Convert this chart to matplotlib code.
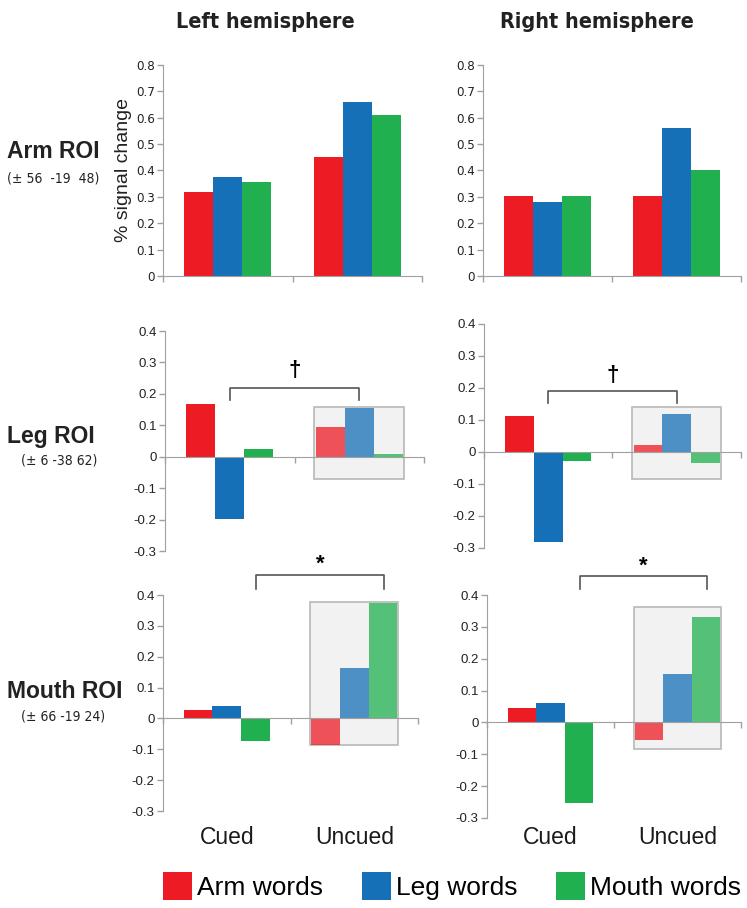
import numpy as np
import matplotlib.pyplot as plt
from matplotlib.patches import Patch, Rectangle
from matplotlib import transforms

plt.rcParams['font.family'] = ['Liberation Sans', 'DejaVu Sans']

# Data (% signal change), order: Arm words, Leg words, Mouth words
conditions = ['Cued', 'Uncued']
word_types = ['Arm words', 'Leg words', 'Mouth words']
colors = ['#ED1C24', '#1570B8', '#21B04F']

arm_left_cued = [0.32, 0.375, 0.355]
arm_left_uncued = [0.45, 0.66, 0.61]
arm_right_cued = [0.305, 0.28, 0.305]
arm_right_uncued = [0.305, 0.56, 0.40]

leg_left_cued = [0.167, -0.198, 0.024]
leg_left_uncued = [0.094, 0.154, 0.01]
leg_right_cued = [0.113, -0.28, -0.027]
leg_right_uncued = [0.022, 0.118, -0.034]

mouth_left_cued = [0.026, 0.041, -0.074]
mouth_left_uncued = [-0.085, 0.165, 0.375]
mouth_right_cued = [0.046, 0.061, -0.254]
mouth_right_uncued = [-0.054, 0.152, 0.332]

# highlight boxes around uncued bars (y range)
leg_left_box = [-0.072, 0.157]
leg_right_box = [-0.084, 0.14]
mouth_left_box = [-0.085, 0.376]
mouth_right_box = [-0.082, 0.363]

# significance brackets: (x start, x end, y top, y end, symbol, symbol x, symbol y)
leg_left_sig = (0.5, 1.5, 0.22, 0.18, '†', 1.0, 0.275)
leg_right_sig = (0.5, 1.5, 0.19, 0.152, '†', 1.0, 0.24)
mouth_left_sig = (0.73, 1.73, 0.465, 0.42, '*', 1.23, 0.50)
mouth_right_sig = (0.73, 1.73, 0.46, 0.42, '*', 1.23, 0.49)

NARROW = dict(family=['DejaVu Sans', 'Liberation Sans'], stretch='condensed')

W, H = 747, 908
fig = plt.figure(figsize=(W / 100, H / 100), dpi=100)


def px_axes(x0, x1, y_top, y_bot):
    return fig.add_axes([x0 / W, 1 - y_bot / H, (x1 - x0) / W, (y_bot - y_top) / H])


bw = 0.224


def draw_panel(ax, cued, uncued, ylim, ticks, box=None, sig=None, narrow=False):
    centers = [0.5, 1.5]
    fade = 0.75 if box is not None else 1.0
    if box is not None:
        ax.add_patch(Rectangle((1.5 - 1.5 * bw - 0.01, box[0]), 3 * bw + 0.02, box[1] - box[0],
                               facecolor='#F2F2F2', edgecolor='#B8B8B8', lw=1.2, zorder=1))
    for i in range(3):
        off = (i - 1) * bw
        ax.bar(centers[0] + off, cued[i], bw, color=colors[i], edgecolor='none', zorder=2)
        ax.bar(centers[1] + off, uncued[i], bw, color=colors[i], alpha=fade,
               edgecolor='none', zorder=2)
    ax.set_xlim(0, 2)
    ax.set_ylim(*ylim)
    ax.set_yticks(ticks)
    ax.set_yticklabels(['0' if abs(t) < 1e-9 else f'{t:.1f}' for t in ticks])
    ax.set_xticks([0, 1, 2])
    ax.set_xticklabels([])
    for s in ['top', 'right']:
        ax.spines[s].set_visible(False)
    ax.spines['left'].set_color('#A0A0A0')
    ax.spines['bottom'].set_color('#A0A0A0')
    ax.spines['bottom'].set_position(('data', 0))
    ax.spines['bottom'].set_zorder(3)
    ax.tick_params(axis='both', colors='#A0A0A0', length=4, width=1)
    if narrow:
        ax.tick_params(axis='y', labelcolor='#222222', labelsize=9.5, pad=2)
        for lab in ax.get_yticklabels():
            lab.set_family(NARROW['family'])
            lab.set_stretch('condensed')
    else:
        ax.tick_params(axis='y', labelcolor='#222222', labelsize=9.5, pad=2)
    ax.patch.set_alpha(0)
    if sig is not None:
        x0, x1, yt, ye, sym, sx, sy = sig
        ax.plot([x0, x0, x1, x1], [ye, yt, yt, ye], color='#555555', lw=1.2, clip_on=False)
        ax.text(sx, sy, sym, ha='center', va='center', fontsize=16, fontweight='bold',
                clip_on=False)


top_ticks = np.arange(0, 0.81, 0.1)
low_ticks = np.arange(-0.3, 0.41, 0.1)

ax1 = px_axes(163, 422, 65, 276)
draw_panel(ax1, arm_left_cued, arm_left_uncued, (0, 0.8), top_ticks, narrow=True)
ax2 = px_axes(483, 741, 65, 276)
draw_panel(ax2, arm_right_cued, arm_right_uncued, (0, 0.8), top_ticks, narrow=True)

ax3 = px_axes(165, 424, 331, 551)
draw_panel(ax3, leg_left_cued, leg_left_uncued, (-0.3, 0.4), low_ticks, leg_left_box, leg_left_sig)
ax4 = px_axes(484, 741, 324, 548)
draw_panel(ax4, leg_right_cued, leg_right_uncued, (-0.3, 0.4), low_ticks, leg_right_box, leg_right_sig)

ax5 = px_axes(163, 418, 595, 811)
draw_panel(ax5, mouth_left_cued, mouth_left_uncued, (-0.3, 0.4), low_ticks, mouth_left_box, mouth_left_sig)
ax6 = px_axes(487, 741, 595, 818)
draw_panel(ax6, mouth_right_cued, mouth_right_uncued, (-0.3, 0.4), low_ticks, mouth_right_box, mouth_right_sig)

# condition labels under bottom panels
for ax in (ax5, ax6):
    tr = transforms.blended_transform_factory(ax.transData, fig.transFigure)
    for c, name in zip([0.5, 1.5], conditions):
        ax.text(c, 1 - 838 / H, name, transform=tr, ha='center', va='center',
                fontsize=16.5, color='#1a1a1a', clip_on=False)

fig.text(265 / W, 1 - 22 / H, 'Left hemisphere', ha='center', va='center', fontsize=15.5,
         fontweight='bold', color='#222222', **NARROW)
fig.text(597 / W, 1 - 22 / H, 'Right hemisphere', ha='center', va='center', fontsize=15.5,
         fontweight='bold', color='#222222', **NARROW)

fig.text(123 / W, 1 - 170 / H, '% signal change', rotation=90, ha='center', va='center',
         fontsize=14, color='#222222')

row_labels = [('Arm ROI', '(± 56  -19  48)', 152, 178, 7),
              ('Leg ROI', '(± 6 -38 62)', 437, 460, 21),
              ('Mouth ROI', '(± 66 -19 24)', 691, 716, 21)]
for name, coords, yl, yc, xc in row_labels:
    fig.text(7 / W, 1 - yl / H, name, ha='left', va='center', fontsize=16.5,
             fontweight='bold', color='#222222')
    fig.text(xc / W, 1 - yc / H, coords, ha='left', va='center', fontsize=10,
             color='#222222', **NARROW)

handles = [Patch(facecolor=c, edgecolor='none') for c in colors]
fig.legend(handles, word_types, loc='center', bbox_to_anchor=(452 / W, 1 - 886 / H), ncol=3,
           frameon=False, fontsize=19, handlelength=1.1, handleheight=1.3,
           handletextpad=0.2, columnspacing=1.45, borderpad=0)

fig.savefig('out.png', dpi=100)
